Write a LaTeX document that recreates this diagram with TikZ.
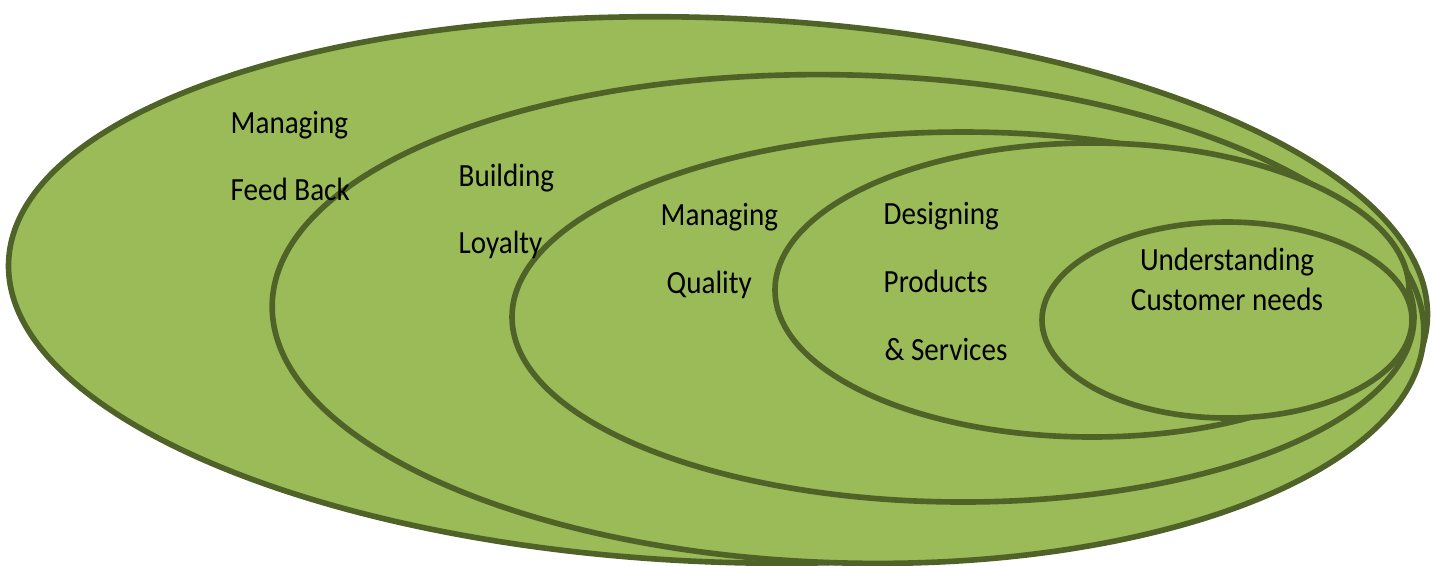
\documentclass[tikz,border=0pt]{standalone}
\usepackage{fontspec}
\setmainfont{Carlito}
\newfontfamily\lblfont[FakeStretch=0.9]{Carlito}
\definecolor{ringfill}{HTML}{9BBB59}
\definecolor{ringline}{HTML}{4F6228}
\tikzset{
  ring/.style={draw=ringline, fill=ringfill, line width=1.6pt},
  lbl/.style={anchor=base west, inner sep=0pt, font=\lblfont\fontsize{9.2}{11}\selectfont}
}
\begin{document}
\begin{tikzpicture}

 \useasboundingbox (0,0) rectangle (14.34,-5.65);

 % rings, outer to inner
 \foreach \cx/\cy/\rx/\ry/\rot in {7.18/2.90/7.10/2.72/-2.3, 8.48/3.19/5.76/2.44/-1.5, 9.63/3.17/4.51/1.85/0, 10.92/2.90/3.17/1.47/0, 12.27/3.20/1.85/0.98/0} {
        \draw[ring, rotate around={\rot:(\cx,-\cy)}] (\cx,-\cy) ellipse [x radius=\rx, y radius=\ry];
 }

 % labels
 \node[lbl] (fb1) at (2.30,-1.33) {Managing};
 \node[lbl] (fb2) at (2.30,-2.00) {Feed Back};
 \node[lbl] (ly1) at (4.58,-1.86) {Building};
 \node[lbl] (ly2) at (4.58,-2.53) {Loyalty};
 \node[lbl] (qu1) at (6.60,-2.25) {Managing};
 \node[lbl] (qu2) at (6.66,-2.93) {Quality};
 \node[lbl] (ds1) at (8.83,-2.24) {Designing};
 \node[lbl] (ds2) at (8.83,-2.92) {Products};
 \node[lbl] (ds3) at (8.84,-3.60) {\& Services};
 \node[lbl, anchor=base] (cn1) at (12.27,-2.70) {Understanding};
 \node[lbl, anchor=base] (cn2) at (12.27,-3.10) {Customer needs};

\end{tikzpicture}
\end{document}
